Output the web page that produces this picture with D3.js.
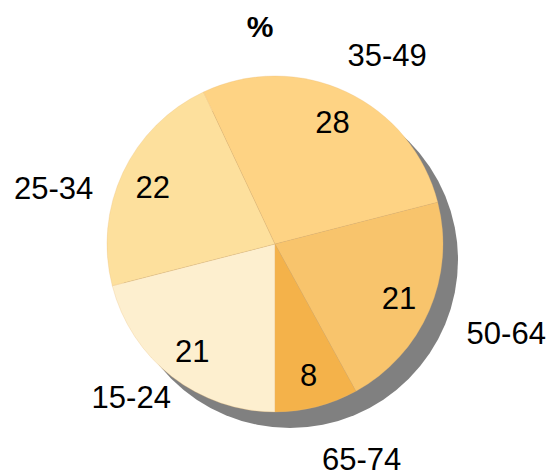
<!DOCTYPE html>
<html>
<head>
<meta charset="utf-8">
<script src="https://cdn.jsdelivr.net/npm/d3@7"></script>
<style>
  body { margin: 0; background: #fff; }
  text { font-family: "Liberation Sans", Arial, sans-serif; fill: #000; }
</style>
</head>
<body>
<div id="chart"></div>
<script>
// Age groups and their share (%)
const ageGroups = ["15-24", "25-34", "35-49", "50-64", "65-74"];
const shares = [21, 22, 28, 21, 8];
const sliceColors = ["#FDEFCF", "#FDE09D", "#FED384", "#F8C46C", "#F4B24A"];
const chartTitle = "%";

const width = 551,
  height = 476;

const svg = d3
  .select("#chart")
  .append("svg")
  .attr("width", width)
  .attr("height", height);

const cx = 275,
  cy = 244,
  radius = 168;

// Pie starts at 6 o'clock and runs clockwise, no sorting
const pie = d3
  .pie()
  .sort(null)
  .startAngle(Math.PI)
  .endAngle(3 * Math.PI)
  .value((d) => d.value);

const data = ageGroups.map((g, i) => ({ group: g, value: shares[i], color: sliceColors[i] }));
const arcs = pie(data);

const arc = d3.arc().innerRadius(0).outerRadius(radius);
const valueArc = d3.arc().innerRadius(135).outerRadius(135);
const labelArc = d3.arc().innerRadius(228).outerRadius(228);

// small hand nudges for the outer category labels
const labelNudge = {
  "15-24": [-4, -27],
  "25-34": [-15, 41],
  "35-49": [15, 17],
  "50-64": [22, -2],
  "65-74": [30, -6],
};

const g = svg.append("g").attr("transform", `translate(${cx},${cy})`);

// Drop shadow
g.append("circle")
  .attr("cx", 15)
  .attr("cy", 16)
  .attr("r", radius)
  .attr("fill", "#808080");

g.selectAll("path.slice")
  .data(arcs)
  .enter()
  .append("path")
  .attr("class", "slice")
  .attr("d", arc)
  .attr("fill", (d) => d.data.color)
  .attr("stroke", "#e8b870")
  .attr("stroke-opacity", 0.45)
  .attr("stroke-width", 0.6);

// Values inside the slices
g.selectAll("text.value")
  .data(arcs)
  .enter()
  .append("text")
  .attr("class", "value")
  .attr("transform", (d) => `translate(${valueArc.centroid(d)})`)
  .attr("text-anchor", "middle")
  .attr("dy", "0.36em")
  .style("font-size", "31px")
  .text((d) => d.data.value);

// Category labels outside
g.selectAll("text.cat")
  .data(arcs)
  .enter()
  .append("text")
  .attr("class", "cat")
  .attr("transform", (d) => {
    const [x, y] = labelArc.centroid(d);
    const n = labelNudge[d.data.group];
    return `translate(${x + n[0]},${y + n[1]})`;
  })
  .attr("text-anchor", "middle")
  .attr("dy", "0.36em")
  .style("font-size", "31px")
  .text((d) => d.data.group);

svg
  .append("text")
  .attr("x", 260)
  .attr("y", 37)
  .attr("text-anchor", "middle")
  .style("font-size", "30px")
  .style("font-weight", "bold")
  .text(chartTitle);
</script>
</body>
</html>
